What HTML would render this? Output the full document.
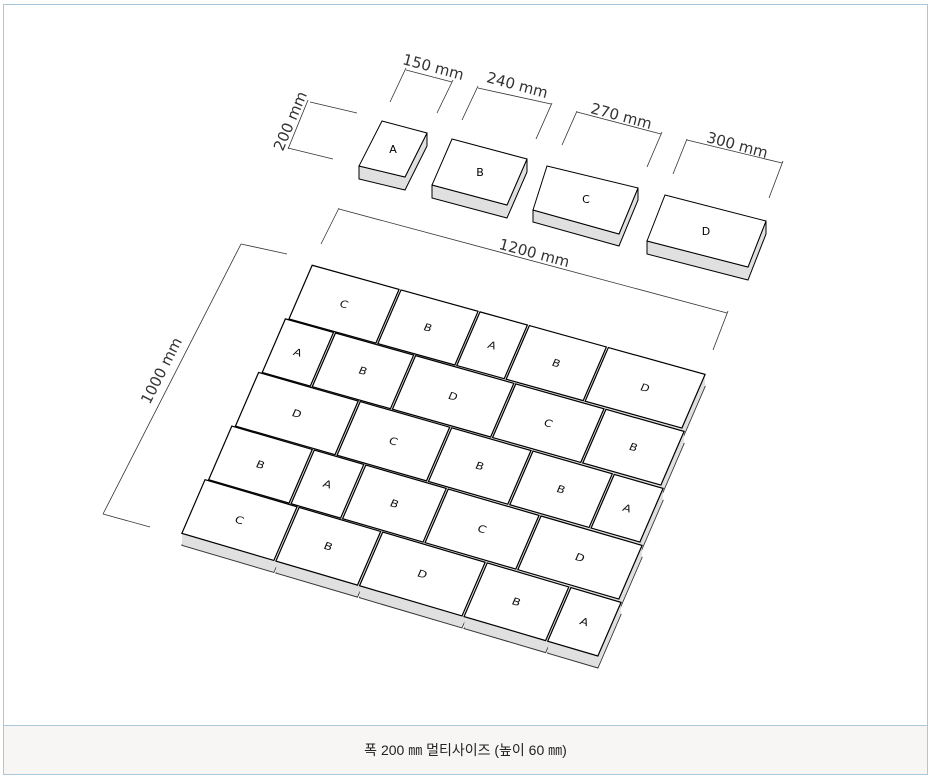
<!DOCTYPE html>
<html><head><meta charset="utf-8"><style>
html,body{margin:0;padding:0;background:#fff;}
body{width:932px;height:780px;position:relative;overflow:hidden;font-family:"Liberation Sans","Noto Sans CJK KR",sans-serif;}
#frame{position:absolute;left:3px;top:4px;width:923px;height:769px;border:1px solid #a9c7dd;}
#cap{position:absolute;left:0;right:0;bottom:0;height:48px;border-top:1px solid #a9c7dd;background:#f7f6f4;text-align:center;line-height:48px;font-size:14px;color:#222;}
svg{position:absolute;left:0;top:0;}
defs rect{vector-effect:non-scaling-stroke;}
.top rect{fill:#fff;stroke:#000;stroke-width:1.2;vector-effect:non-scaling-stroke;}
.top text{font-family:"DejaVu Sans",sans-serif;font-size:34px;text-anchor:middle;fill:#111;}
.dim line{stroke:#333;stroke-width:0.8;}
.dim text{font-family:"DejaVu Sans",sans-serif;font-size:15px;fill:#333;text-anchor:middle;}
.blk text{font-family:"DejaVu Sans",sans-serif;font-size:11px;text-anchor:middle;}
.sd{fill:#e0e0e0;stroke:none;}
</style></head><body>
<div id="frame"><div id="cap">폭 200 ㎜ 멀티사이즈 (높이 60 ㎜)</div></div>
<svg width="932" height="780" viewBox="0 0 932 780" xmlns="http://www.w3.org/2000/svg" xmlns:xlink="http://www.w3.org/1999/xlink">
<defs>
<g id="s0" transform="matrix(0.32908 0.09142 -0.1195 0.2765 311.55 264.15)">
<rect x="3" y="3" width="264" height="194"/><rect x="273" y="3" width="234" height="194"/><rect x="513" y="3" width="144" height="194"/><rect x="663" y="3" width="234" height="194"/><rect x="903" y="3" width="294" height="194"/></g>
<g id="s1" transform="matrix(0.33392 0.09425 -0.1195 0.2765 284.75 317.75)">
<rect x="3" y="3" width="144" height="194"/><rect x="153" y="3" width="234" height="194"/><rect x="393" y="3" width="294" height="194"/><rect x="693" y="3" width="264" height="194"/><rect x="963" y="3" width="234" height="194"/></g>
<g id="s2" transform="matrix(0.33875 0.09708 -0.1195 0.2765 257.95 371.35)">
<rect x="3" y="3" width="294" height="194"/><rect x="303" y="3" width="264" height="194"/><rect x="573" y="3" width="234" height="194"/><rect x="813" y="3" width="234" height="194"/><rect x="1053" y="3" width="144" height="194"/></g>
<g id="s3" transform="matrix(0.34358 0.09992 -0.1195 0.2765 231.15 424.95)">
<rect x="3" y="3" width="234" height="194"/><rect x="243" y="3" width="144" height="194"/><rect x="393" y="3" width="234" height="194"/><rect x="633" y="3" width="264" height="194"/><rect x="903" y="3" width="294" height="194"/></g>
<g id="s4" transform="matrix(0.34842 0.10275 -0.1195 0.2765 204.35 478.55)">
<rect x="3" y="3" width="264" height="194"/><rect x="273" y="3" width="234" height="194"/><rect x="513" y="3" width="294" height="194"/><rect x="813" y="3" width="234" height="194"/><rect x="1053" y="3" width="144" height="194"/></g>
</defs>

<g class="sd">
<use xlink:href="#s0" y="12" stroke="#333" stroke-width="1"/><use xlink:href="#s0" y="11"/><use xlink:href="#s0" y="10"/><use xlink:href="#s0" y="9"/><use xlink:href="#s0" y="8"/><use xlink:href="#s0" y="7"/><use xlink:href="#s0" y="6"/><use xlink:href="#s0" y="5"/><use xlink:href="#s0" y="4"/><use xlink:href="#s0" y="3"/><use xlink:href="#s0" y="2"/><use xlink:href="#s0" y="1"/>
</g>
<g class="top" transform="matrix(0.32908 0.09142 -0.1195 0.2765 311.55 264.15)">
<rect x="3" y="3" width="264" height="194"/><rect x="273" y="3" width="234" height="194"/><rect x="513" y="3" width="144" height="194"/><rect x="663" y="3" width="234" height="194"/><rect x="903" y="3" width="294" height="194"/>
<text x="135" y="112">C</text><text x="390" y="112">B</text><text x="585" y="112">A</text><text x="780" y="112">B</text><text x="1050" y="112">D</text></g>

<g class="sd">
<use xlink:href="#s1" y="12" stroke="#333" stroke-width="1"/><use xlink:href="#s1" y="11"/><use xlink:href="#s1" y="10"/><use xlink:href="#s1" y="9"/><use xlink:href="#s1" y="8"/><use xlink:href="#s1" y="7"/><use xlink:href="#s1" y="6"/><use xlink:href="#s1" y="5"/><use xlink:href="#s1" y="4"/><use xlink:href="#s1" y="3"/><use xlink:href="#s1" y="2"/><use xlink:href="#s1" y="1"/>
</g>
<g class="top" transform="matrix(0.33392 0.09425 -0.1195 0.2765 284.75 317.75)">
<rect x="3" y="3" width="144" height="194"/><rect x="153" y="3" width="234" height="194"/><rect x="393" y="3" width="294" height="194"/><rect x="693" y="3" width="264" height="194"/><rect x="963" y="3" width="234" height="194"/>
<text x="75" y="112">A</text><text x="270" y="112">B</text><text x="540" y="112">D</text><text x="825" y="112">C</text><text x="1080" y="112">B</text></g>

<g class="sd">
<use xlink:href="#s2" y="12" stroke="#333" stroke-width="1"/><use xlink:href="#s2" y="11"/><use xlink:href="#s2" y="10"/><use xlink:href="#s2" y="9"/><use xlink:href="#s2" y="8"/><use xlink:href="#s2" y="7"/><use xlink:href="#s2" y="6"/><use xlink:href="#s2" y="5"/><use xlink:href="#s2" y="4"/><use xlink:href="#s2" y="3"/><use xlink:href="#s2" y="2"/><use xlink:href="#s2" y="1"/>
</g>
<g class="top" transform="matrix(0.33875 0.09708 -0.1195 0.2765 257.95 371.35)">
<rect x="3" y="3" width="294" height="194"/><rect x="303" y="3" width="264" height="194"/><rect x="573" y="3" width="234" height="194"/><rect x="813" y="3" width="234" height="194"/><rect x="1053" y="3" width="144" height="194"/>
<text x="150" y="112">D</text><text x="435" y="112">C</text><text x="690" y="112">B</text><text x="930" y="112">B</text><text x="1125" y="112">A</text></g>

<g class="sd">
<use xlink:href="#s3" y="12" stroke="#333" stroke-width="1"/><use xlink:href="#s3" y="11"/><use xlink:href="#s3" y="10"/><use xlink:href="#s3" y="9"/><use xlink:href="#s3" y="8"/><use xlink:href="#s3" y="7"/><use xlink:href="#s3" y="6"/><use xlink:href="#s3" y="5"/><use xlink:href="#s3" y="4"/><use xlink:href="#s3" y="3"/><use xlink:href="#s3" y="2"/><use xlink:href="#s3" y="1"/>
</g>
<g class="top" transform="matrix(0.34358 0.09992 -0.1195 0.2765 231.15 424.95)">
<rect x="3" y="3" width="234" height="194"/><rect x="243" y="3" width="144" height="194"/><rect x="393" y="3" width="234" height="194"/><rect x="633" y="3" width="264" height="194"/><rect x="903" y="3" width="294" height="194"/>
<text x="120" y="112">B</text><text x="315" y="112">A</text><text x="510" y="112">B</text><text x="765" y="112">C</text><text x="1050" y="112">D</text></g>

<g class="sd">
<use xlink:href="#s4" y="12" stroke="#333" stroke-width="1"/><use xlink:href="#s4" y="11"/><use xlink:href="#s4" y="10"/><use xlink:href="#s4" y="9"/><use xlink:href="#s4" y="8"/><use xlink:href="#s4" y="7"/><use xlink:href="#s4" y="6"/><use xlink:href="#s4" y="5"/><use xlink:href="#s4" y="4"/><use xlink:href="#s4" y="3"/><use xlink:href="#s4" y="2"/><use xlink:href="#s4" y="1"/>
</g>
<g class="top" transform="matrix(0.34842 0.10275 -0.1195 0.2765 204.35 478.55)">
<rect x="3" y="3" width="264" height="194"/><rect x="273" y="3" width="234" height="194"/><rect x="513" y="3" width="294" height="194"/><rect x="813" y="3" width="234" height="194"/><rect x="1053" y="3" width="144" height="194"/>
<text x="135" y="112">C</text><text x="390" y="112">B</text><text x="660" y="112">D</text><text x="930" y="112">B</text><text x="1125" y="112">A</text></g>

<g class="blk" stroke="#000" stroke-width="1">
<polygon points="359,166 405,177 427,133 427,146 405,190 359,179" fill="#e0e0e0"/>
<polygon points="382,121 427,133 405,177 359,166" fill="#fff"/>
<polygon points="432,185 507,205 527,159 527,172 507,218 432,198" fill="#e0e0e0"/>
<polygon points="452,139 527,159 507,205 432,185" fill="#fff"/>
<polygon points="533,210 619,234 638,188 638,200 619,246 533,222" fill="#e0e0e0"/>
<polygon points="547,166 638,188 619,234 533,210" fill="#fff"/>
<polygon points="647,241 748,267 766,221 766,234 748,280 647,254" fill="#e0e0e0"/>
<polygon points="665,195 766,221 748,267 647,241" fill="#fff"/>
</g>
<g class="blk" fill="#000">
<text x="393" y="153">A</text><text x="480" y="176">B</text><text x="586" y="203">C</text><text x="706" y="235">D</text>
</g>

<g class="dim">
<line x1="390" y1="102" x2="406" y2="68"/><line x1="437" y1="113" x2="453" y2="80"/><line x1="406" y1="70" x2="452" y2="82"/>
<text transform="translate(432,72) rotate(15)">150 mm</text>
<line x1="462" y1="120" x2="478" y2="86"/><line x1="536" y1="139" x2="552" y2="103"/><line x1="478" y1="88" x2="551" y2="104"/>
<text transform="translate(516,90) rotate(15)">240 mm</text>
<line x1="562" y1="145" x2="577" y2="111"/><line x1="647" y1="167" x2="662" y2="132"/><line x1="577" y1="112" x2="661" y2="134"/>
<text transform="translate(620,121) rotate(15)">270 mm</text>
<line x1="673" y1="174" x2="687" y2="139"/><line x1="769" y1="198" x2="783" y2="161"/><line x1="687" y1="140" x2="782" y2="163"/>
<text transform="translate(736,150) rotate(15)">300 mm</text>
<line x1="310" y1="102" x2="357" y2="113"/><line x1="288" y1="148" x2="333" y2="159"/><line x1="308" y1="100" x2="288" y2="149"/>
<text transform="translate(295,123) rotate(-67)">200 mm</text>
<line x1="321" y1="244" x2="339" y2="208"/><line x1="713" y1="350" x2="728" y2="311"/><line x1="339" y1="209" x2="727" y2="313"/>
<text transform="translate(533,258) rotate(15)">1200 mm</text>
<line x1="241" y1="244" x2="287" y2="254"/><line x1="103" y1="514" x2="150" y2="527"/><line x1="241" y1="244" x2="103" y2="514"/>
<text transform="translate(166,373) rotate(-63)">1000 mm</text>
</g>
</svg>
</body></html>
